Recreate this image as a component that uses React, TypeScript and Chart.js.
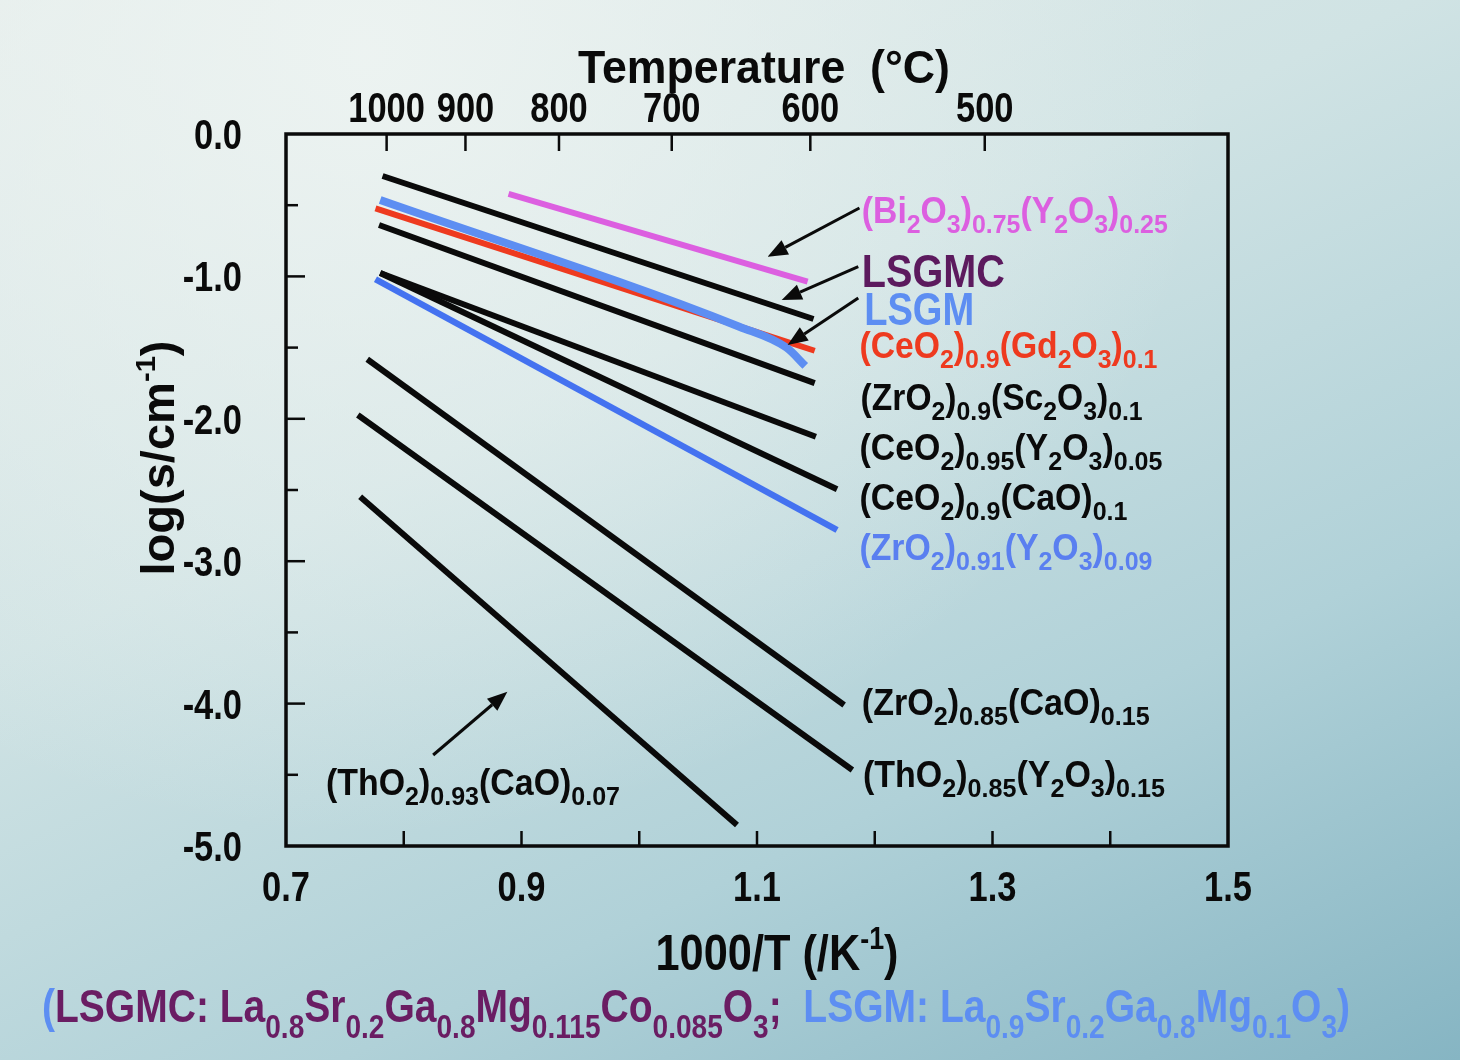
import React, { useEffect, useRef } from 'react';
import { Chart, registerables } from 'chart.js';

Chart.register(...registerables);

// ---------- data ----------
const xTickLabels = ['0.7', '0.9', '1.1', '1.3', '1.5'];
const yTickLabels = ['0.0', '-1.0', '-2.0', '-3.0', '-4.0', '-5.0'];
const tempLabels = ['1000', '900', '800', '700', '600', '500'];
const tempValues = [1000, 900, 800, 700, 600, 500];

const bi2o3X = [0.889, 1.143];
const bi2o3Y = [-0.421, -1.037];
const lsgmcX = [0.782, 1.148];
const lsgmcY = [-0.295, -1.299];
const lsgmX = [0.78, 1.085, 1.125, 1.141];
const lsgmY = [-0.463, -1.353, -1.5, -1.629];
const ceGdX = [0.776, 1.149];
const ceGdY = [-0.522, -1.522];
const zrScX = [0.779, 1.149];
const zrScY = [-0.639, -1.749];
const ceYX = [0.78, 1.15];
const ceYY = [-0.976, -2.126];
const ceCaX = [0.78, 1.168];
const ceCaY = [-0.976, -2.495];
const zrYX = [0.776, 1.168];
const zrYY = [-1.02, -2.781];
const zrCaX = [0.769, 1.174];
const zrCaY = [-1.582, -4.01];
const thYX = [0.761, 1.181];
const thYY = [-1.973, -4.466];
const thCaX = [0.763, 1.083];
const thCaY = [-2.547, -4.853];

const FAMILY = '"Liberation Sans Narrow", "Liberation Sans", Arial, sans-serif';

const BLACK = '#0a0a0a';
const MAGENTA = '#dc5fe0';
const PURPLE = '#5c1a5e';
const LIGHTBLUE = '#5d8ef2';
const RED = '#ee3a1f';
const BLUE = '#4472f0';

const pts = (xs: number[], ys: number[]) => xs.map((x, i) => ({ x, y: ys[i] }));

// labels / arrows in data units
const labels = [
  { s: '(Bi_{2}O_{3})_{0.75}(Y_{2}O_{3})_{0.25}', x: 1.189, y: -0.625, c: MAGENTA, size: 36, w: 306 },
  { s: 'LSGMC', x: 1.189, y: -1.074, c: PURPLE, size: 46, w: 143 },
  { s: 'LSGM', x: 1.191, y: -1.341, c: LIGHTBLUE, size: 46, w: 110 },
  { s: '(CeO_{2})_{0.9}(Gd_{2}O_{3})_{0.1}', x: 1.187, y: -1.573, c: RED, size: 36, w: 298 },
  { s: '(ZrO_{2})_{0.9}(Sc_{2}O_{3})_{0.1}', x: 1.188, y: -1.938, c: BLACK, size: 36, w: 282 },
  { s: '(CeO_{2})_{0.95}(Y_{2}O_{3})_{0.05}', x: 1.187, y: -2.289, c: BLACK, size: 36, w: 303 },
  { s: '(CeO_{2})_{0.9}(CaO)_{0.1}', x: 1.187, y: -2.64, c: BLACK, size: 36, w: 268 },
  { s: '(ZrO_{2})_{0.91}(Y_{2}O_{3})_{0.09}', x: 1.187, y: -2.992, c: '#5a7ff0', size: 36, w: 293 },
  { s: '(ZrO_{2})_{0.85}(CaO)_{0.15}', x: 1.189, y: -4.08, c: BLACK, size: 36, w: 288 },
  { s: '(ThO_{2})_{0.85}(Y_{2}O_{3})_{0.15}', x: 1.19, y: -4.586, c: BLACK, size: 36, w: 302 },
  { s: '(ThO_{2})_{0.93}(CaO)_{0.07}', x: 0.734, y: -4.642, c: BLACK, size: 36, w: 294 },
];

const arrows = [
  { x1: 1.187, y1: -0.52, x2: 1.109, y2: -0.862 },
  { x1: 1.186, y1: -0.932, x2: 1.121, y2: -1.166 },
  { x1: 1.186, y1: -1.152, x2: 1.126, y2: -1.482 },
  { x1: 0.825, y1: -4.361, x2: 0.888, y2: -3.917 },
];

type Seg = { t: string; m: number; c: string };

function parseRich(str: string, color: string): Seg[] {
  const out: Seg[] = [];
  const re = /([_^])\{([^}]*)\}/g;
  let last = 0;
  let m: RegExpExecArray | null;
  while ((m = re.exec(str))) {
    if (m.index > last) out.push({ t: str.slice(last, m.index), m: 0, c: color });
    out.push({ t: m[2], m: m[1] === '_' ? 1 : 2, c: color });
    last = re.lastIndex;
  }
  if (last < str.length) out.push({ t: str.slice(last), m: 0, c: color });
  return out;
}

function fontFor(m: number, S: number, subScale: number) {
  const sz = m === 0 ? S : m === 1 ? S * subScale : S * 0.62;
  return `bold ${sz.toFixed(1)}px ${FAMILY}`;
}

function drawRich(
  ctx: CanvasRenderingContext2D,
  segs: Seg[],
  x: number,
  y: number,
  S: number,
  opts: {
    align?: 'left' | 'center' | 'right';
    w?: number;
    k?: number;
    rot?: boolean;
    subScale?: number;
    subOff?: number;
  }
) {
  const subScale = opts.subScale ?? 0.74;
  const subOff = opts.subOff ?? 0.27;
  let total = 0;
  for (const s of segs) {
    ctx.font = fontFor(s.m, S, subScale);
    total += ctx.measureText(s.t).width;
  }
  const sx = opts.w ? opts.w / total : opts.k ?? 1;
  const width = total * sx;
  ctx.save();
  ctx.translate(x, y);
  if (opts.rot) ctx.rotate(-Math.PI / 2);
  const start = opts.align === 'center' ? -width / 2 : opts.align === 'right' ? -width : 0;
  ctx.translate(start, 0);
  ctx.scale(sx, 1);
  ctx.textBaseline = 'alphabetic';
  ctx.textAlign = 'left';
  let cx = 0;
  for (const s of segs) {
    ctx.font = fontFor(s.m, S, subScale);
    ctx.fillStyle = s.c;
    const dy = s.m === 1 ? S * subOff : s.m === 2 ? -S * 0.42 : 0;
    ctx.fillText(s.t, cx, dy);
    cx += ctx.measureText(s.t).width;
  }
  ctx.restore();
}

const TICK_SIZE = 42;
const TICK_K = 0.82;

const decorPlugin = {
  id: 'decor',
  afterDraw(chart: any) {
    const ctx: CanvasRenderingContext2D = chart.ctx;
    const { left, right, top, bottom } = chart.chartArea;
    const sx = chart.scales.x;
    const sy = chart.scales.y;
    const st = chart.scales.x2;
    ctx.save();
    ctx.strokeStyle = BLACK;
    ctx.lineCap = 'butt';

    // inward tick marks
    ctx.lineWidth = 2.5;
    sx.ticks.forEach((t: any) => {
      const px = sx.getPixelForValue(t.value);
      if (px <= left + 1 || px >= right - 1) return;
      ctx.beginPath();
      ctx.moveTo(px, bottom);
      ctx.lineTo(px, bottom - 15);
      ctx.stroke();
    });
    sy.ticks.forEach((t: any) => {
      const py = sy.getPixelForValue(t.value);
      if (py <= top + 1 || py >= bottom - 1) return;
      const major = Math.abs(t.value - Math.round(t.value)) < 1e-6;
      ctx.beginPath();
      ctx.moveTo(left, py);
      ctx.lineTo(left + (major ? 19 : 12), py);
      ctx.stroke();
    });
    st.ticks.forEach((t: any) => {
      const px = st.getPixelForValue(t.value);
      ctx.beginPath();
      ctx.moveTo(px, top);
      ctx.lineTo(px, top + 17);
      ctx.stroke();
    });

    // tick labels (condensed), taken from the scales' own ticks
    sx.ticks.forEach((t: any) => {
      if (!t.label) return;
      drawRich(ctx, parseRich(String(t.label), BLACK), sx.getPixelForValue(t.value), bottom + 55, TICK_SIZE, {
        align: 'center',
        k: TICK_K,
      });
    });
    sy.ticks.forEach((t: any) => {
      if (!t.label) return;
      drawRich(ctx, parseRich(String(t.label), BLACK), left - 44, sy.getPixelForValue(t.value) + 15, TICK_SIZE, {
        align: 'right',
        k: TICK_K,
      });
    });
    st.ticks.forEach((t: any) => {
      if (!t.label) return;
      drawRich(ctx, parseRich(String(t.label), BLACK), st.getPixelForValue(t.value), top - 12, TICK_SIZE, {
        align: 'center',
        k: TICK_K,
      });
    });

    // frame
    ctx.lineWidth = 3.5;
    ctx.strokeRect(left, top, right - left, bottom - top);

    // arrows
    ctx.lineWidth = 3;
    ctx.fillStyle = BLACK;
    arrows.forEach((a) => {
      const x1 = sx.getPixelForValue(a.x1);
      const y1 = sy.getPixelForValue(a.y1);
      const x2 = sx.getPixelForValue(a.x2);
      const y2 = sy.getPixelForValue(a.y2);
      const ang = Math.atan2(y2 - y1, x2 - x1);
      const hl = 20;
      const hw = 8;
      const bx = x2 - hl * Math.cos(ang);
      const by = y2 - hl * Math.sin(ang);
      ctx.beginPath();
      ctx.moveTo(x1, y1);
      ctx.lineTo(bx, by);
      ctx.stroke();
      ctx.beginPath();
      ctx.moveTo(x2, y2);
      ctx.lineTo(bx + hw * Math.sin(ang), by - hw * Math.cos(ang));
      ctx.lineTo(bx - hw * Math.sin(ang), by + hw * Math.cos(ang));
      ctx.closePath();
      ctx.fill();
    });

    // series labels
    labels.forEach((l) => {
      drawRich(ctx, parseRich(l.s, l.c), sx.getPixelForValue(l.x), sy.getPixelForValue(l.y), l.size, { w: l.w });
    });

    // axis titles
    drawRich(ctx, parseRich('Temperature  (°C)', BLACK), left + 478, top - 51, 46, { align: 'center', w: 372 });
    drawRich(ctx, parseRich('1000/T (/K^{-1})', BLACK), left + 491, bottom + 124, 50, { align: 'center', w: 243 });
    drawRich(ctx, parseRich('log(s/cm^{-1})', BLACK), left - 112, top + 324, 46, { align: 'center', w: 235, rot: true });

    // bottom note
    const note = [
      ...parseRich('(', LIGHTBLUE),
      ...parseRich('LSGMC: La_{0.8}Sr_{0.2}Ga_{0.8}Mg_{0.115}Co_{0.085}O_{3};', '#6a1d63'),
      ...parseRich('  LSGM: La_{0.9}Sr_{0.2}Ga_{0.8}Mg_{0.1}O_{3})', LIGHTBLUE),
    ];
    drawRich(ctx, note, 42, 1022, 46, { w: 1308, subScale: 0.72, subOff: 0.34 });
    ctx.restore();
  },
};

const hiddenTickFont = { family: FAMILY, size: 36, weight: 'bold' as const };

export default function App() {
  const ref = useRef<HTMLCanvasElement | null>(null);
  useEffect(() => {
    if (!ref.current) return;
    const line = (label: string, xs: number[], ys: number[], color: string, w: number, smooth = false) => ({
      label,
      data: pts(xs, ys),
      borderColor: color,
      backgroundColor: color,
      borderWidth: w,
      showLine: true,
      pointRadius: 0,
      pointHoverRadius: 0,
      tension: 0,
      cubicInterpolationMode: smooth ? ('monotone' as const) : ('default' as const),
      borderCapStyle: 'butt' as const,
      borderJoinStyle: 'round' as const,
      xAxisID: 'x',
      yAxisID: 'y',
    });
    const chart = new Chart(ref.current, {
      type: 'scatter',
      data: {
        datasets: [
          line('LSGM', lsgmX, lsgmY, LIGHTBLUE, 8, true),
          line('(CeO2)0.9(Gd2O3)0.1', ceGdX, ceGdY, RED, 6),
          line('(Bi2O3)0.75(Y2O3)0.25', bi2o3X, bi2o3Y, MAGENTA, 6),
          line('LSGMC', lsgmcX, lsgmcY, BLACK, 6),
          line('(ZrO2)0.9(Sc2O3)0.1', zrScX, zrScY, BLACK, 6),
          line('(CeO2)0.95(Y2O3)0.05', ceYX, ceYY, BLACK, 6),
          line('(CeO2)0.9(CaO)0.1', ceCaX, ceCaY, BLACK, 6),
          line('(ZrO2)0.91(Y2O3)0.09', zrYX, zrYY, BLUE, 6.5),
          line('(ZrO2)0.85(CaO)0.15', zrCaX, zrCaY, BLACK, 6),
          line('(ThO2)0.85(Y2O3)0.15', thYX, thYY, BLACK, 6),
          line('(ThO2)0.93(CaO)0.07', thCaX, thCaY, BLACK, 6),
        ],
      },
      options: {
        responsive: false,
        animation: false,
        devicePixelRatio: 1,
        layout: { padding: { left: 0, right: 232, top: 0, bottom: 0 } },
        plugins: { legend: { display: false }, tooltip: { enabled: false }, title: { display: false } },
        events: [],
        scales: {
          x: {
            type: 'linear',
            position: 'bottom',
            min: 0.7,
            max: 1.5,
            grid: { display: false, drawTicks: false },
            border: { display: false },
            ticks: {
              stepSize: 0.1,
              autoSkip: false,
              maxRotation: 0,
              padding: 22,
              color: 'rgba(0,0,0,0)',
              font: hiddenTickFont,
              callback: (v: any) => {
                const s = Number(v).toFixed(1);
                return xTickLabels.includes(s) ? s : '';
              },
            },
            afterFit: (s: any) => {
              s.height = 214;
            },
          },
          x2: {
            type: 'linear',
            position: 'top',
            min: 0.7,
            max: 1.5,
            grid: { display: false, drawTicks: false },
            border: { display: false },
            afterBuildTicks: (s: any) => {
              s.ticks = tempValues.map((t) => ({ value: 1000 / (t + 273.15) }));
            },
            ticks: {
              autoSkip: false,
              maxRotation: 0,
              padding: 8,
              color: 'rgba(0,0,0,0)',
              font: hiddenTickFont,
              callback: (_v: any, i: number) => tempLabels[i],
            },
            afterFit: (s: any) => {
              s.height = 134;
            },
          },
          y: {
            type: 'linear',
            position: 'left',
            min: -5,
            max: 0,
            grid: { display: false, drawTicks: false },
            border: { display: false },
            ticks: {
              stepSize: 0.5,
              autoSkip: false,
              padding: 44,
              color: 'rgba(0,0,0,0)',
              font: hiddenTickFont,
              callback: (v: any) => {
                let n = Number(v);
                if (Math.abs(n) < 1e-9) n = 0;
                const s = n.toFixed(1);
                return yTickLabels.includes(s) ? s : '';
              },
            },
            afterFit: (s: any) => {
              s.width = 286;
            },
          },
        },
      },
      plugins: [decorPlugin],
    } as any);
    return () => chart.destroy();
  }, []);

  return (
    <div
      style={{
        position: 'fixed',
        left: 0,
        top: 0,
        width: 1460,
        height: 1060,
        background:
          'radial-gradient(ellipse at 25% 5%, rgba(238,244,242,0.9) 0%, rgba(238,244,242,0) 55%), linear-gradient(155deg, #e3ecea 0%, #d0e3e4 38%, #b0d1d8 70%, #86b5c3 100%)',
      }}
    >
      <canvas ref={ref} width={1460} height={1060} style={{ display: 'block' }} />
    </div>
  );
}
